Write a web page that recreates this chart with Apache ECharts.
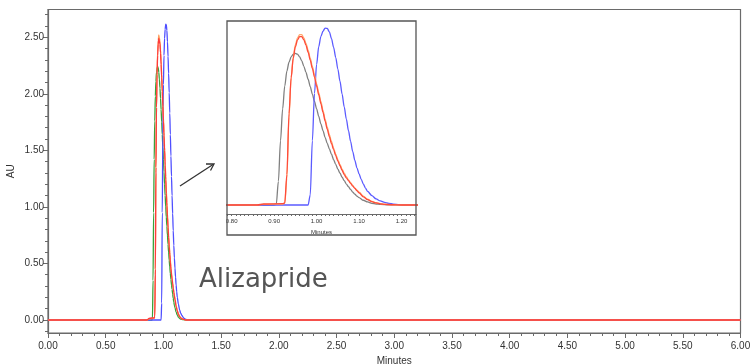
<!DOCTYPE html>
<html>
<head>
<meta charset="utf-8">
<script src="https://cdn.jsdelivr.net/npm/echarts@6/dist/echarts.min.js"></script>
<style>
  html, body { margin: 0; padding: 0; background: #fff; }
  #chart { width: 750px; height: 364px; }
</style>
</head>
<body>
<div id="chart"></div>
<script>
// retention time (min) / absorbance (AU)
const grayTime = [0, 0.85, 0.9, 0.905, 0.91, 0.915, 0.92, 0.925, 0.93, 0.935, 0.94, 0.945, 0.95, 0.955, 0.96, 0.965, 0.97, 0.975, 0.98, 0.985, 0.99, 0.995, 1.0, 1.005, 1.01, 1.015, 1.02, 1.025, 1.03, 1.035, 1.04, 1.045, 1.05, 1.055, 1.06, 1.065, 1.07, 1.075, 1.08, 1.085, 1.09, 1.095, 1.1, 1.11, 1.12, 1.13, 1.14, 1.15, 1.17, 1.2, 1.3, 6];
const grayAU = [0, 0, 0, 0.01, 0.35, 0.95, 1.42, 1.76, 1.98, 2.11, 2.19, 2.23, 2.24, 2.23, 2.19, 2.13, 2.05, 1.96, 1.86, 1.75, 1.64, 1.53, 1.42, 1.31, 1.2, 1.1, 1.0, 0.91, 0.83, 0.75, 0.67, 0.6, 0.53, 0.47, 0.41, 0.36, 0.31, 0.27, 0.23, 0.19, 0.16, 0.13, 0.11, 0.07, 0.045, 0.025, 0.015, 0.008, 0.003, 0, 0, 0];

const redTime = [0, 0.86, 0.875, 0.92, 0.925, 0.93, 0.935, 0.94, 0.945, 0.95, 0.955, 0.96, 0.965, 0.97, 0.975, 0.98, 0.985, 0.99, 0.995, 1.0, 1.005, 1.01, 1.015, 1.02, 1.025, 1.03, 1.035, 1.04, 1.045, 1.05, 1.055, 1.06, 1.065, 1.07, 1.075, 1.08, 1.085, 1.09, 1.095, 1.1, 1.11, 1.12, 1.13, 1.14, 1.15, 1.16, 1.18, 1.2, 1.3, 6];
const redAU = [0, 0, 0.015, 0.02, 0.03, 0.45, 1.35, 1.88, 2.17, 2.34, 2.44, 2.49, 2.49, 2.44, 2.36, 2.26, 2.14, 2.02, 1.89, 1.76, 1.63, 1.5, 1.37, 1.24, 1.12, 1.01, 0.91, 0.82, 0.73, 0.65, 0.58, 0.51, 0.45, 0.4, 0.36, 0.32, 0.28, 0.245, 0.21, 0.18, 0.12, 0.08, 0.05, 0.03, 0.018, 0.01, 0.004, 0, 0, 0];
const orangeAU = [0, 0, 0.01, 0.015, 0.025, 0.4, 1.3, 1.88, 2.19, 2.37, 2.47, 2.52, 2.52, 2.47, 2.39, 2.29, 2.17, 2.05, 1.92, 1.79, 1.66, 1.53, 1.4, 1.27, 1.15, 1.04, 0.94, 0.84, 0.75, 0.67, 0.6, 0.53, 0.47, 0.42, 0.37, 0.33, 0.29, 0.25, 0.22, 0.19, 0.13, 0.085, 0.055, 0.033, 0.02, 0.011, 0.004, 0, 0, 0];

const blueTime = [0, 0.98, 0.985, 0.99, 0.995, 1.0, 1.005, 1.01, 1.015, 1.02, 1.025, 1.03, 1.035, 1.04, 1.045, 1.05, 1.055, 1.06, 1.065, 1.07, 1.075, 1.08, 1.085, 1.09, 1.095, 1.1, 1.105, 1.11, 1.115, 1.12, 1.13, 1.14, 1.15, 1.16, 1.17, 1.18, 1.195, 1.21, 1.3, 6];
const blueAU = [0, 0, 0.15, 0.95, 1.65, 2.08, 2.34, 2.49, 2.57, 2.615, 2.61, 2.56, 2.46, 2.33, 2.18, 2.01, 1.83, 1.64, 1.45, 1.27, 1.1, 0.94, 0.79, 0.66, 0.55, 0.46, 0.38, 0.31, 0.25, 0.2, 0.14, 0.09, 0.06, 0.04, 0.025, 0.014, 0.005, 0, 0, 0];

const yMajor = [0, 0.5, 1.0, 1.5, 2.0, 2.5];
const yMinor = [-0.1, 0.1, 0.2, 0.3, 0.4, 0.6, 0.7, 0.8, 0.9, 1.1, 1.2, 1.3, 1.4, 1.6, 1.7, 1.8, 1.9, 2.1, 2.2, 2.3, 2.4, 2.6, 2.7];
const insetMajor = [0.8, 0.9, 1.0, 1.1, 1.2];

const pairs = (t, v) => t.map((x, i) => [x, v[i]]);

const numFont = "'Liberation Sans Narrow', 'Liberation Sans', Arial, sans-serif";
const axisGray = "#6a6a6a";

const insetMinor = [];
for (let k = 79; k <= 123; k++) insetMinor.push(k / 100);

const traces = [
  { name: "gray", data: pairs(grayTime, grayAU), main: "#3aa13a", inset: "#808080" },
  { name: "blue", data: pairs(blueTime, blueAU), main: "#4f4fff", inset: "#5b5bff" },
  { name: "orange", data: pairs(redTime, orangeAU), main: "#ffa060", inset: "#ffab70" },
  { name: "red", data: pairs(redTime, redAU), main: "#ff3b3b", inset: "#ff4a3a" },
];

const series = [];
traces.forEach((tr, i) => {
  series.push({
    name: tr.name, type: "line", xAxisIndex: 0, yAxisIndex: 0,
    data: tr.data, showSymbol: false, smooth: 0.3, smoothMonotone: "x",
    lineStyle: { color: tr.main, width: 1.3 }, z: 2 + i, silent: true,
  });
  series.push({
    name: tr.name + "-inset", type: "line", xAxisIndex: 1, yAxisIndex: 2,
    data: tr.data, showSymbol: false, smooth: 0.3, smoothMonotone: "x",
    lineStyle: { color: tr.inset, width: 1.3 }, z: 2 + i, silent: true,
  });
});

const chart = echarts.init(document.getElementById("chart"), null, { renderer: "canvas" });

chart.setOption({
  animation: false,
  backgroundColor: "#fff",
  grid: [
    { left: 48, right: 9.5, top: 9.5, bottom: 31, show: true, borderColor: axisGray, borderWidth: 1.2,
      outerBoundsMode: "none", containLabel: false },
    { left: 227, right: 334, top: 21, bottom: 150, show: false, outerBoundsMode: "none", containLabel: false },
  ],
  xAxis: [
    {
      type: "value", gridIndex: 0, min: 0, max: 6, interval: 0.5,
      name: "Minutes", nameLocation: "middle", nameGap: 22,
      nameTextStyle: { fontFamily: numFont, fontSize: 10, color: "#333" },
      axisLine: { onZero: false, lineStyle: { color: axisGray, width: 1.2 } },
      axisTick: { length: 5, lineStyle: { color: axisGray } },
      minorTick: { show: true, splitNumber: 5, length: 3, lineStyle: { color: axisGray } },
      axisLabel: { fontFamily: numFont, fontSize: 10, color: "#333", margin: 8,
        formatter: (v) => v.toFixed(2) },
      splitLine: { show: false },
    },
    {
      type: "value", gridIndex: 1, min: 0.789, max: 1.234,
      name: "Minutes", nameLocation: "middle", nameGap: 15,
      nameTextStyle: { fontFamily: numFont, fontSize: 6, color: "#333" },
      axisLine: { onZero: false, lineStyle: { color: axisGray, width: 1 } },
      axisTick: { customValues: insetMinor, length: 2, lineStyle: { color: axisGray } },
      axisLabel: { customValues: insetMajor, fontFamily: numFont, fontSize: 6, color: "#333", margin: 4,
        formatter: (v) => v.toFixed(2) },
      splitLine: { show: false },
    },
  ],
  yAxis: [
    {
      type: "value", gridIndex: 0, min: -0.115, max: 2.745, position: "left",
      name: "AU", nameLocation: "middle", nameGap: 32, nameRotate: 90, nameMoveOverlap: false,
      nameTextStyle: { fontFamily: numFont, fontSize: 10, color: "#333" },
      axisLine: { onZero: false, lineStyle: { color: axisGray, width: 1.2 } },
      axisTick: { show: true, customValues: yMajor, length: 5, lineStyle: { color: axisGray } },
      axisLabel: { customValues: yMajor, fontFamily: numFont, fontSize: 10, color: "#333", margin: 4,
        formatter: (v) => v.toFixed(2) },
      splitLine: { show: false },
    },
    {
      type: "value", gridIndex: 0, min: -0.115, max: 2.745, position: "left", offset: 0,
      axisLine: { show: false, onZero: false },
      axisTick: { show: true, customValues: yMinor, length: 3, lineStyle: { color: axisGray } },
      axisLabel: { show: false },
      splitLine: { show: false },
    },
    {
      type: "value", gridIndex: 1, min: -0.133, max: 2.72,
      axisLine: { show: false }, axisTick: { show: false }, axisLabel: { show: false },
      splitLine: { show: false },
    },
  ],
  series: series,
  graphic: [
    {
      type: "rect", shape: { x: 227, y: 21, width: 189, height: 214 },
      style: { fill: "none", stroke: "#555", lineWidth: 1.3 }, z: 10, silent: true,
    },
    {
      type: "line", shape: { x1: 180, y1: 186, x2: 213, y2: 164.5 },
      style: { stroke: "#333", lineWidth: 1.3 }, z: 10, silent: true,
    },
    {
      type: "polyline", shape: { points: [[206, 164], [214, 164], [210.5, 170.5]] },
      style: { stroke: "#333", lineWidth: 1.3, fill: "none" }, z: 10, silent: true,
    },
    {
      type: "text", left: 199, top: 267,
      style: { text: "Alizapride", font: "26px 'DejaVu Sans', Verdana, sans-serif", fill: "#555" },
      z: 10, silent: true,
    },
  ],
});
</script>
</body>
</html>
